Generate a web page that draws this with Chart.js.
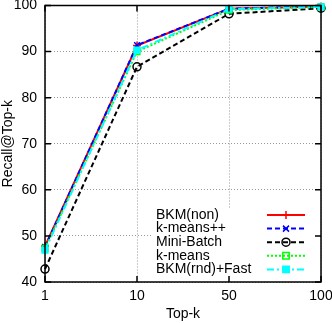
<!DOCTYPE html>
<html>
<head>
<meta charset="utf-8">
<script src="https://cdn.jsdelivr.net/npm/chart.js@4/dist/chart.umd.min.js"></script>
<style>
html,body{margin:0;padding:0;background:#fff;}
canvas{display:block;}
</style>
</head>
<body>
<canvas id="c" width="332" height="323"></canvas>
<script>
const categories = ['1', '10', '50', '100'];
const yTicks = [40, 50, 60, 70, 80, 90, 100];
const bkmNon = [47.8, 91.3, 99.3, 99.8];
const kmeansPP = [47.6, 91.4, 99.3, 99.8];
const miniBatch = [42.8, 86.7, 98.2, 99.4];
const kmeans = [47.3, 90.0, 99.0, 99.7];
const bkmRndFast = [46.9, 90.3, 99.2, 99.7];
const seriesLabels = ['BKM(non)', 'k-means++', 'Mini-Batch', 'k-means', 'BKM(rnd)+Fast'];

const FONT = '"Liberation Sans", Arial, sans-serif';

const styles = [
  {color: '#ff0000', dash: [], point: 'cross', fill: false},
  {color: '#0000ff', dash: [5, 3], point: 'crossRot', fill: false},
  {color: '#000000', dash: [5, 3], point: 'circle', fill: false},
  {color: '#00ff00', dash: [2, 2], point: 'rect', fill: false},
  {color: '#00ffff', dash: [7, 3, 2, 3], point: 'rect', fill: true}
];
const seriesData = [bkmNon, kmeansPP, miniBatch, kmeans, bkmRndFast];

const datasets = seriesData.map((d, i) => ({
  label: seriesLabels[i],
  data: d,
  borderColor: styles[i].color,
  backgroundColor: styles[i].fill ? styles[i].color : 'rgba(0,0,0,0)',
  borderWidth: 2,
  borderDash: styles[i].dash,
  pointStyle: styles[i].point,
  pointRadius: 4,
  pointBorderWidth: 1.5,
  pointBorderColor: styles[i].color,
  pointBackgroundColor: styles[i].fill ? styles[i].color : 'rgba(0,0,0,0)',
  tension: 0,
  clip: 6,
  order: seriesData.length - i
}));

const framePlugin = {
  id: 'frame',
  beforeDatasetsDraw(chart) {
    const ctx = chart.ctx;
    const a = chart.chartArea;
    ctx.save();
    ctx.fillStyle = '#ffffff';
    ctx.fillRect(a.left + 107, a.bottom - 74, a.right - a.left - 108, 68);
    ctx.restore();
  },
  afterDraw(chart) {
    const ctx = chart.ctx;
    const a = chart.chartArea;
    const xs = chart.scales.x, ys = chart.scales.y;
    ctx.save();
    ctx.strokeStyle = '#000';
    ctx.lineWidth = 1.5;
    ctx.setLineDash([]);
    ctx.strokeRect(a.left, a.top, a.right - a.left, a.bottom - a.top);
    const tl = 6;
    ctx.beginPath();
    yTicks.forEach(v => {
      const y = ys.getPixelForValue(v);
      ctx.moveTo(a.left, y); ctx.lineTo(a.left + tl, y);
      ctx.moveTo(a.right, y); ctx.lineTo(a.right - tl, y);
    });
    categories.forEach((c, i) => {
      const x = xs.getPixelForValue(i);
      ctx.moveTo(x, a.bottom); ctx.lineTo(x, a.bottom - tl);
      ctx.moveTo(x, a.top); ctx.lineTo(x, a.top + tl);
    });
    ctx.stroke();

    const lx = a.left + 111;
    const sx0 = a.left + 222, sx1 = a.left + 260, px = a.left + 241;
    const y0 = a.bottom - 67, dy = 13.6;
    ctx.font = '14px ' + FONT;
    ctx.textBaseline = 'middle';
    ctx.textAlign = 'left';
    chart.data.datasets.forEach((ds, i) => {
      const y = y0 + i * dy;
      ctx.fillStyle = '#000';
      ctx.fillText(ds.label, lx, y);
      ctx.strokeStyle = ds.borderColor;
      ctx.lineWidth = 2;
      ctx.setLineDash(ds.borderDash);
      ctx.beginPath();
      ctx.moveTo(sx0, y); ctx.lineTo(sx1, y);
      ctx.stroke();
      ctx.setLineDash([]);
      ctx.lineWidth = 1.5;
      const r = 4;
      ctx.beginPath();
      if (ds.pointStyle === 'cross') {
        ctx.moveTo(px - r, y); ctx.lineTo(px + r, y);
        ctx.moveTo(px, y - r); ctx.lineTo(px, y + r);
        ctx.stroke();
      } else if (ds.pointStyle === 'crossRot') {
        const q = r * 0.75;
        ctx.moveTo(px - q, y - q); ctx.lineTo(px + q, y + q);
        ctx.moveTo(px - q, y + q); ctx.lineTo(px + q, y - q);
        ctx.stroke();
      } else if (ds.pointStyle === 'circle') {
        ctx.arc(px, y, r, 0, Math.PI * 2);
        ctx.stroke();
      } else if (ds.pointStyle === 'rect') {
        const q = r * 0.8;
        ctx.rect(px - q, y - q, 2 * q, 2 * q);
        if (ds.pointBackgroundColor !== 'rgba(0,0,0,0)') {
          ctx.fillStyle = ds.borderColor; ctx.fill();
        }
        ctx.stroke();
      }
    });
    ctx.restore();
  }
};

new Chart(document.getElementById('c'), {
  type: 'line',
  data: {labels: categories, datasets: datasets},
  plugins: [framePlugin],
  options: {
    responsive: false,
    animation: false,
    devicePixelRatio: 1,
    layout: {padding: {left: 0, right: 11, top: 5, bottom: 0}},
    plugins: {legend: {display: false}, tooltip: {enabled: false}},
    scales: {
      x: {
        type: 'category',
        offset: false,
        grid: {color: '#999999', lineWidth: 1, drawTicks: false, tickLength: 0},
        border: {display: false, dash: [1, 2]},
        ticks: {color: '#000', font: {size: 14, family: FONT}, padding: 6, maxRotation: 0},
        title: {display: true, text: 'Top-k', color: '#000', font: {size: 14, family: FONT}, padding: {top: 7, bottom: 0}},
        afterFit(s) { s.height = 41; s.paddingLeft = 0; s.paddingRight = 0; }
      },
      y: {
        min: 40, max: 100,
        afterBuildTicks(s) { s.ticks = yTicks.map(v => ({value: v})); },
        grid: {color: '#999999', lineWidth: 1, drawTicks: false, tickLength: 0},
        border: {display: false, dash: [1, 2]},
        ticks: {color: '#000', font: {size: 14, family: FONT}, padding: 8},
        title: {display: true, text: 'Recall@Top-k', color: '#000', font: {size: 14, family: FONT}, padding: {top: 0, bottom: 0}},
        afterFit(s) { s.width = 45; s.paddingTop = 0; s.paddingBottom = 0; }
      }
    }
  }
});
</script>
</body>
</html>
